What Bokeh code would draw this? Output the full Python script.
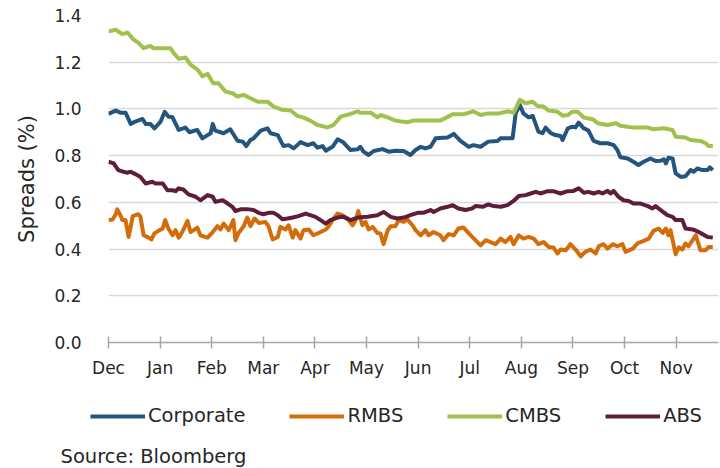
from bokeh.plotting import figure
from bokeh.models import FixedTicker, Legend, LegendItem, Label, Range1d, PrintfTickFormatter
from bokeh.embed import file_html
from bokeh.resources import INLINE

# ---- data (time in months since start of Dec) ----
months = ["Dec", "Jan", "Feb", "Mar", "Apr", "May", "Jun", "Jul", "Aug", "Sep", "Oct", "Nov"]
y_ticks = [0.0, 0.2, 0.4, 0.6, 0.8, 1.0, 1.2, 1.4]

corp_t = [0.00, 0.14, 0.23, 0.33, 0.43, 0.52, 0.66, 0.72, 0.81, 0.89, 1.01, 1.09, 1.16, 1.24, 1.36, 1.49, 1.57, 1.72,
          1.82, 1.92, 1.98, 2.02, 2.07, 2.23, 2.36, 2.50, 2.60, 2.67, 2.75, 2.81, 2.95, 3.08, 3.14, 3.28, 3.39, 3.49,
          3.59, 3.72, 3.86, 3.97, 4.05, 4.15, 4.21, 4.34, 4.44, 4.55, 4.69, 4.83, 4.88, 4.94, 5.04, 5.14, 5.31, 5.43,
          5.56, 5.72, 5.85, 5.95, 6.05, 6.14, 6.24, 6.34, 6.57, 6.69, 6.82, 6.98, 7.07, 7.21, 7.36, 7.54, 7.60, 7.83,
          7.89, 7.97, 8.04, 8.14, 8.22, 8.33, 8.41, 8.47, 8.57, 8.66, 8.76, 8.80, 8.90, 8.99, 9.05, 9.11, 9.21, 9.30,
          9.40, 9.53, 9.67, 9.79, 9.86, 9.92, 10.06, 10.17, 10.27, 10.37, 10.50, 10.60, 10.70, 10.76, 10.80, 10.85,
          10.93, 10.99, 11.09, 11.18, 11.28, 11.34, 11.41, 11.51, 11.61, 11.65, 11.71]
corp_v = [0.979, 0.993, 0.984, 0.984, 0.936, 0.946, 0.957, 0.936, 0.936, 0.917, 0.946, 0.988, 0.967, 0.964, 0.910, 0.920,
          0.900, 0.910, 0.874, 0.888, 0.896, 0.936, 0.907, 0.896, 0.913, 0.864, 0.860, 0.841, 0.867, 0.874, 0.907, 0.917,
          0.896, 0.888, 0.841, 0.845, 0.831, 0.858, 0.845, 0.853, 0.834, 0.841, 0.821, 0.838, 0.870, 0.857, 0.824, 0.827,
          0.838, 0.817, 0.803, 0.820, 0.828, 0.817, 0.821, 0.820, 0.803, 0.824, 0.838, 0.831, 0.838, 0.874, 0.878, 0.893,
          0.863, 0.838, 0.845, 0.838, 0.860, 0.863, 0.875, 0.874, 0.981, 1.017, 0.981, 0.964, 0.970, 0.903, 0.896, 0.920,
          0.896, 0.888, 0.884, 0.867, 0.917, 0.924, 0.921, 0.941, 0.917, 0.907, 0.863, 0.853, 0.853, 0.845, 0.824, 0.793,
          0.788, 0.774, 0.760, 0.774, 0.788, 0.777, 0.778, 0.784, 0.767, 0.791, 0.788, 0.724, 0.709, 0.712, 0.738, 0.731,
          0.745, 0.738, 0.738, 0.750, 0.738]

rmbs_t = [0.00, 0.08, 0.14, 0.17, 0.23, 0.27, 0.33, 0.39, 0.47, 0.52, 0.58, 0.62, 0.68, 0.78, 0.83, 0.89, 0.97, 1.05,
          1.10, 1.16, 1.24, 1.30, 1.36, 1.43, 1.53, 1.59, 1.65, 1.72, 1.78, 1.92, 2.02, 2.11, 2.17, 2.23, 2.33, 2.42,
          2.46, 2.52, 2.62, 2.69, 2.75, 2.83, 2.91, 3.04, 3.10, 3.18, 3.28, 3.33, 3.43, 3.49, 3.57, 3.62, 3.72, 3.78,
          3.88, 3.97, 4.07, 4.21, 4.26, 4.34, 4.44, 4.53, 4.63, 4.73, 4.79, 4.84, 4.92, 4.98, 5.04, 5.12, 5.21, 5.27,
          5.33, 5.41, 5.47, 5.56, 5.62, 5.72, 5.79, 5.89, 5.95, 6.05, 6.14, 6.20, 6.30, 6.43, 6.49, 6.59, 6.69, 6.78,
          6.88, 7.02, 7.11, 7.21, 7.31, 7.40, 7.50, 7.60, 7.69, 7.79, 7.85, 7.95, 8.04, 8.14, 8.24, 8.33, 8.43, 8.53,
          8.62, 8.70, 8.76, 8.86, 8.95, 9.05, 9.15, 9.24, 9.34, 9.44, 9.50, 9.59, 9.67, 9.77, 9.86, 9.96, 10.02, 10.16,
          10.25, 10.37, 10.47, 10.56, 10.66, 10.74, 10.80, 10.85, 10.89, 10.99, 11.05, 11.12, 11.18, 11.24, 11.38,
          11.47, 11.57, 11.63, 11.71]
rmbs_v = [0.524, 0.527, 0.549, 0.570, 0.545, 0.524, 0.524, 0.452, 0.541, 0.545, 0.549, 0.538, 0.459, 0.449, 0.441, 0.467,
          0.478, 0.488, 0.524, 0.488, 0.459, 0.481, 0.449, 0.473, 0.521, 0.473, 0.481, 0.492, 0.459, 0.449, 0.473, 0.498,
          0.484, 0.509, 0.481, 0.524, 0.438, 0.469, 0.498, 0.535, 0.498, 0.531, 0.512, 0.516, 0.498, 0.441, 0.452, 0.495,
          0.484, 0.502, 0.449, 0.481, 0.445, 0.481, 0.484, 0.459, 0.469, 0.484, 0.495, 0.524, 0.552, 0.545, 0.531, 0.502,
          0.524, 0.563, 0.502, 0.516, 0.484, 0.495, 0.469, 0.467, 0.421, 0.481, 0.498, 0.498, 0.524, 0.516, 0.527, 0.502,
          0.481, 0.459, 0.481, 0.459, 0.473, 0.459, 0.438, 0.464, 0.459, 0.488, 0.492, 0.459, 0.438, 0.416, 0.438, 0.430,
          0.421, 0.445, 0.430, 0.452, 0.421, 0.459, 0.445, 0.452, 0.445, 0.421, 0.430, 0.409, 0.407, 0.381, 0.398, 0.395,
          0.421, 0.398, 0.369, 0.388, 0.398, 0.381, 0.412, 0.421, 0.402, 0.421, 0.412, 0.421, 0.388, 0.402, 0.424, 0.435,
          0.445, 0.478, 0.488, 0.469, 0.488, 0.459, 0.481, 0.378, 0.407, 0.398, 0.424, 0.412, 0.459, 0.395, 0.395, 0.409,
          0.409]

cmbs_t = [0.00, 0.14, 0.27, 0.37, 0.47, 0.58, 0.68, 0.81, 0.87, 1.20, 1.26, 1.36, 1.49, 1.59, 1.73, 1.82, 1.92, 2.03,
          2.13, 2.27, 2.40, 2.50, 2.62, 2.75, 2.89, 3.08, 3.20, 3.37, 3.53, 3.66, 3.78, 3.91, 4.05, 4.24, 4.36, 4.50,
          4.69, 4.83, 4.88, 5.08, 5.21, 5.27, 5.41, 5.56, 5.79, 5.91, 6.43, 6.67, 6.88, 7.07, 7.21, 7.34, 7.54, 7.75,
          7.85, 7.97, 8.08, 8.22, 8.31, 8.43, 8.53, 8.70, 8.80, 8.90, 8.99, 9.09, 9.21, 9.38, 9.48, 9.67, 9.83, 9.92,
          10.17, 10.45, 10.56, 10.76, 10.93, 10.99, 11.18, 11.28, 11.47, 11.57, 11.63, 11.71]
cmbs_v = [1.332, 1.339, 1.320, 1.327, 1.300, 1.283, 1.260, 1.270, 1.260, 1.260, 1.240, 1.215, 1.220, 1.190, 1.167, 1.140,
          1.150, 1.110, 1.110, 1.074, 1.067, 1.053, 1.060, 1.046, 1.031, 1.031, 1.010, 0.996, 0.993, 0.970, 0.963, 0.950,
          0.931, 0.921, 0.931, 0.967, 0.979, 0.990, 0.984, 0.984, 0.964, 0.974, 0.964, 0.950, 0.943, 0.950, 0.950, 0.977,
          0.977, 0.990, 0.974, 0.980, 0.980, 0.990, 0.983, 1.039, 1.024, 1.031, 1.013, 1.010, 0.993, 0.988, 0.971, 0.974,
          0.988, 0.988, 0.963, 0.956, 0.939, 0.931, 0.939, 0.928, 0.920, 0.920, 0.913, 0.917, 0.910, 0.881, 0.878, 0.867,
          0.863, 0.853, 0.841, 0.841]

abs_t = [0.00, 0.10, 0.19, 0.29, 0.37, 0.43, 0.52, 0.62, 0.72, 0.85, 0.91, 1.05, 1.14, 1.24, 1.30, 1.36, 1.45, 1.55,
         1.69, 1.78, 1.92, 2.02, 2.07, 2.21, 2.31, 2.40, 2.46, 2.56, 2.69, 2.81, 2.91, 3.00, 3.10, 3.20, 3.28, 3.37,
         3.47, 3.57, 3.68, 3.82, 3.91, 4.01, 4.11, 4.21, 4.30, 4.44, 4.55, 4.69, 4.83, 5.02, 5.21, 5.33, 5.47, 5.60,
         5.72, 5.85, 5.99, 6.10, 6.24, 6.30, 6.43, 6.57, 6.67, 6.78, 6.92, 7.05, 7.11, 7.25, 7.36, 7.46, 7.60, 7.73,
         7.85, 7.95, 8.08, 8.18, 8.28, 8.37, 8.51, 8.62, 8.76, 8.90, 9.01, 9.11, 9.21, 9.30, 9.40, 9.50, 9.57, 9.67,
         9.73, 9.79, 9.88, 9.98, 10.08, 10.17, 10.31, 10.45, 10.54, 10.60, 10.70, 10.83, 10.93, 10.99, 11.12, 11.18,
         11.32, 11.41, 11.51, 11.61, 11.71]
abs_v = [0.774, 0.767, 0.738, 0.731, 0.727, 0.731, 0.721, 0.709, 0.681, 0.688, 0.681, 0.681, 0.652, 0.652, 0.648, 0.660,
         0.655, 0.634, 0.624, 0.609, 0.631, 0.624, 0.602, 0.609, 0.595, 0.581, 0.563, 0.570, 0.571, 0.567, 0.555, 0.549,
         0.555, 0.555, 0.545, 0.528, 0.531, 0.535, 0.541, 0.552, 0.545, 0.538, 0.524, 0.509, 0.524, 0.535, 0.538, 0.524,
         0.535, 0.538, 0.545, 0.559, 0.538, 0.531, 0.535, 0.545, 0.555, 0.555, 0.567, 0.559, 0.574, 0.581, 0.588, 0.574,
         0.567, 0.574, 0.584, 0.581, 0.591, 0.584, 0.581, 0.588, 0.606, 0.627, 0.631, 0.638, 0.645, 0.638, 0.648, 0.648,
         0.638, 0.648, 0.649, 0.660, 0.641, 0.645, 0.638, 0.645, 0.638, 0.649, 0.638, 0.649, 0.624, 0.609, 0.606, 0.595,
         0.595, 0.584, 0.574, 0.584, 0.567, 0.545, 0.538, 0.524, 0.524, 0.488, 0.484, 0.476, 0.464, 0.452, 0.449]

series_names = ["Corporate", "RMBS", "CMBS", "ABS"]
series_colors = ["#24557E", "#D46C0A", "#A0C14C", "#5E1D3A"]
source_text = "Source: Bloomberg"

FONT = "DejaVu Sans"
TXT = "#262626"
LW = 4

# ---- main chart ----
p = figure(width=720, height=392, output_backend="svg", toolbar_location=None,
           x_range=Range1d(0, 11.82), y_range=Range1d(0, 1.4),
           min_border_left=108, min_border_right=2, min_border_top=15, min_border_bottom=50)
p.outline_line_color = None
p.background_fill_color = "white"
p.border_fill_color = "white"

p.xgrid.visible = False
p.ygrid.grid_line_color = "#d9d9d9"
p.ygrid.grid_line_width = 1.5
p.ygrid.ticker = FixedTicker(ticks=y_ticks)

ya = p.yaxis[0]
ya.ticker = FixedTicker(ticks=y_ticks)
ya.formatter = PrintfTickFormatter(format="%.1f")
ya.axis_line_color = None
ya.major_tick_line_color = None
ya.minor_tick_line_color = None
ya.major_label_text_font = FONT
ya.major_label_text_font_size = "17px"
ya.major_label_text_color = TXT
ya.major_label_standoff = 21
ya.axis_label = "Spreads (%)"
ya.axis_label_text_font = FONT
ya.axis_label_text_font_size = "21px"
ya.axis_label_text_font_style = "normal"
ya.axis_label_text_color = TXT
ya.axis_label_standoff = 12

xa = p.xaxis[0]
xa.ticker = FixedTicker(ticks=list(range(len(months))))
xa.major_label_overrides = {i: m for i, m in enumerate(months)}
xa.axis_line_color = "#a6a6a6"
xa.axis_line_width = 1.5
xa.major_tick_line_color = "#a6a6a6"
xa.major_tick_line_width = 1.5
xa.major_tick_in = 6
xa.major_tick_out = 6
xa.minor_tick_line_color = None
xa.major_label_text_font = FONT
xa.major_label_text_font_size = "17px"
xa.major_label_text_color = TXT
xa.major_label_standoff = 9

data = [(corp_t, corp_v), (rmbs_t, rmbs_v), (cmbs_t, cmbs_v), (abs_t, abs_v)]
for (t, v), col in zip(data, series_colors):
    p.line(t, v, line_color=col, line_width=LW, line_join="round")

# ---- legend / source strip (separate root, so its frame spans the full width) ----
p2 = figure(width=720, height=76, output_backend="svg", toolbar_location=None,
            x_range=Range1d(0, 720), y_range=Range1d(0, 76), min_border=0,
            x_axis_location=None, y_axis_location=None)
p2.outline_line_color = None
p2.grid.visible = False
items = []
for name, col in zip(series_names, series_colors):
    # proxy renderers outside the visible range, used only for the legend swatches
    r = p2.line([-20, -10], [-20, -20], line_color=col, line_width=LW)
    items.append(LegendItem(label=name, renderers=[r]))

legend = Legend(items=items, orientation="horizontal", location=(90, 41),
                border_line_color=None, background_fill_alpha=0,
                label_text_font=FONT, label_text_font_size="19.5px", label_text_color=TXT,
                glyph_width=55, glyph_height=22, label_standoff=3, spacing=44,
                padding=0, margin=0)
p2.add_layout(legend, "center")

src = Label(x=60, y=12, x_units="screen", y_units="screen", text=source_text,
            text_font=FONT, text_font_size="19.5px", text_color=TXT, text_baseline="middle")
p2.add_layout(src)

open("out.html", "w").write(file_html([p, p2], INLINE))
